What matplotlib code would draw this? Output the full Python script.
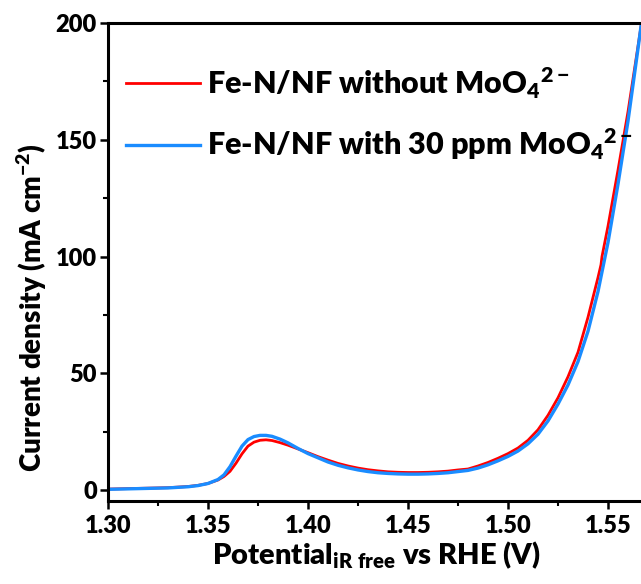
import matplotlib.pyplot as plt
from matplotlib.ticker import MultipleLocator

plt.rcParams['font.family'] = ['Lato', 'DejaVu Sans']
plt.rcParams['font.weight'] = 'heavy'
plt.rcParams['axes.labelweight'] = 'heavy'
plt.rcParams['mathtext.fontset'] = 'custom'
plt.rcParams['mathtext.rm'] = 'Lato:heavy'
plt.rcParams['mathtext.it'] = 'Lato:heavy'
plt.rcParams['mathtext.bf'] = 'Lato:heavy'

# potential (V) and current density (mA cm-2)
pot_red = [1.300, 1.310, 1.320, 1.330, 1.340, 1.345, 1.350, 1.355, 1.358, 1.361,
           1.364, 1.367, 1.370, 1.373, 1.376, 1.379, 1.382, 1.386, 1.390, 1.395,
           1.400, 1.405, 1.410, 1.415, 1.420, 1.425, 1.430, 1.435, 1.440, 1.445,
           1.450, 1.455, 1.460, 1.465, 1.470, 1.475, 1.480, 1.485, 1.490, 1.495,
           1.500, 1.505, 1.510, 1.515, 1.520, 1.525, 1.530, 1.535, 1.540, 1.545,
           1.5465, 1.547, 1.550, 1.555, 1.560, 1.565, 1.568]
j_red = [0.4, 0.6, 0.8, 1.0, 1.5, 2.0, 2.8, 4.3, 5.8, 8.0,
         11.5, 15.5, 18.8, 20.5, 21.3, 21.5, 21.2, 20.3, 19.2, 17.6,
         16.0, 14.3, 12.8, 11.4, 10.3, 9.4, 8.7, 8.2, 7.8, 7.6,
         7.5, 7.5, 7.6, 7.8, 8.1, 8.6, 9.0, 10.3, 11.8, 13.6,
         15.6, 18.0, 21.3, 25.8, 32.0, 39.5, 48.5, 59.0, 74.0, 91.0,
         96.5, 100.0, 113.0, 137.0, 162.0, 190.0, 207.0]

pot_blue = [1.300, 1.310, 1.320, 1.330, 1.340, 1.345, 1.350, 1.355, 1.358, 1.361,
            1.364, 1.367, 1.370, 1.373, 1.376, 1.379, 1.382, 1.386, 1.390, 1.395,
            1.400, 1.405, 1.410, 1.415, 1.420, 1.425, 1.430, 1.435, 1.440, 1.445,
            1.450, 1.455, 1.460, 1.465, 1.470, 1.475, 1.480, 1.485, 1.490, 1.495,
            1.500, 1.505, 1.510, 1.515, 1.520, 1.525, 1.530, 1.535, 1.540, 1.545,
            1.550, 1.555, 1.560, 1.565, 1.568]
j_blue = [0.3, 0.5, 0.7, 0.9, 1.4, 1.9, 2.8, 4.5, 6.5, 10.0,
          14.5, 18.8, 21.6, 22.9, 23.4, 23.4, 23.0, 21.8, 20.2, 17.8,
          15.6, 13.8, 12.0, 10.6, 9.5, 8.6, 7.9, 7.4, 7.1, 6.9,
          6.8, 6.8, 6.9, 7.1, 7.4, 7.9, 8.4, 9.4, 10.8, 12.5,
          14.4, 16.7, 19.8, 23.9, 29.6, 36.8, 45.0, 55.0, 68.0, 85.0,
          106.0, 131.0, 158.0, 189.0, 208.0]

labels = [r'Fe-N/NF without MoO$_4$$^{2-}$', r'Fe-N/NF with 30 ppm MoO$_4$$^{2-}$']

fig = plt.figure(figsize=(6.41, 5.84), dpi=100)
ax = fig.add_axes([108 / 641, 83 / 584, 537 / 641, 478 / 584])

ax.plot(pot_red, j_red, color='#ff0000', lw=2.0, label=labels[0])
ax.plot(pot_blue, j_blue, color='#1a8cff', lw=2.4, label=labels[1])

ax.set_xlim(1.30, 1.5685)
ax.set_ylim(-4.7, 200)
ax.xaxis.set_major_locator(MultipleLocator(0.05))
ax.xaxis.set_minor_locator(MultipleLocator(0.025))
ax.yaxis.set_major_locator(MultipleLocator(50))
ax.yaxis.set_minor_locator(MultipleLocator(25))
ax.xaxis.set_major_formatter(lambda v, p: f'{v:.2f}')

for s in ax.spines.values():
    s.set_linewidth(2.2)
ax.tick_params(which='major', direction='out', length=6, width=1.8, labelsize=17, pad=4)
ax.tick_params(which='minor', direction='out', length=3.5, width=1.5)
ax.tick_params(axis='y', pad=2)
for t in ax.get_xticklabels() + ax.get_yticklabels():
    t.set_fontweight('heavy')

ax.set_xlabel(r'Potential$_{\mathrm{iR\ free}}$ vs RHE (V)', fontsize=21,
              fontweight='heavy', labelpad=2)
ax.set_ylabel(r'Current density (mA cm$^{-2}$)', fontsize=20,
              fontweight='heavy')
ax.yaxis.set_label_coords(-0.11, 0.405)

ax.legend(loc='upper left', bbox_to_anchor=(0.0, 0.95), frameon=False,
          prop={'size': 22, 'weight': 'heavy'},
          handlelength=2.4, handletextpad=0.25, labelspacing=0.85, borderaxespad=0.2)

plt.savefig('out.png', dpi=100)
